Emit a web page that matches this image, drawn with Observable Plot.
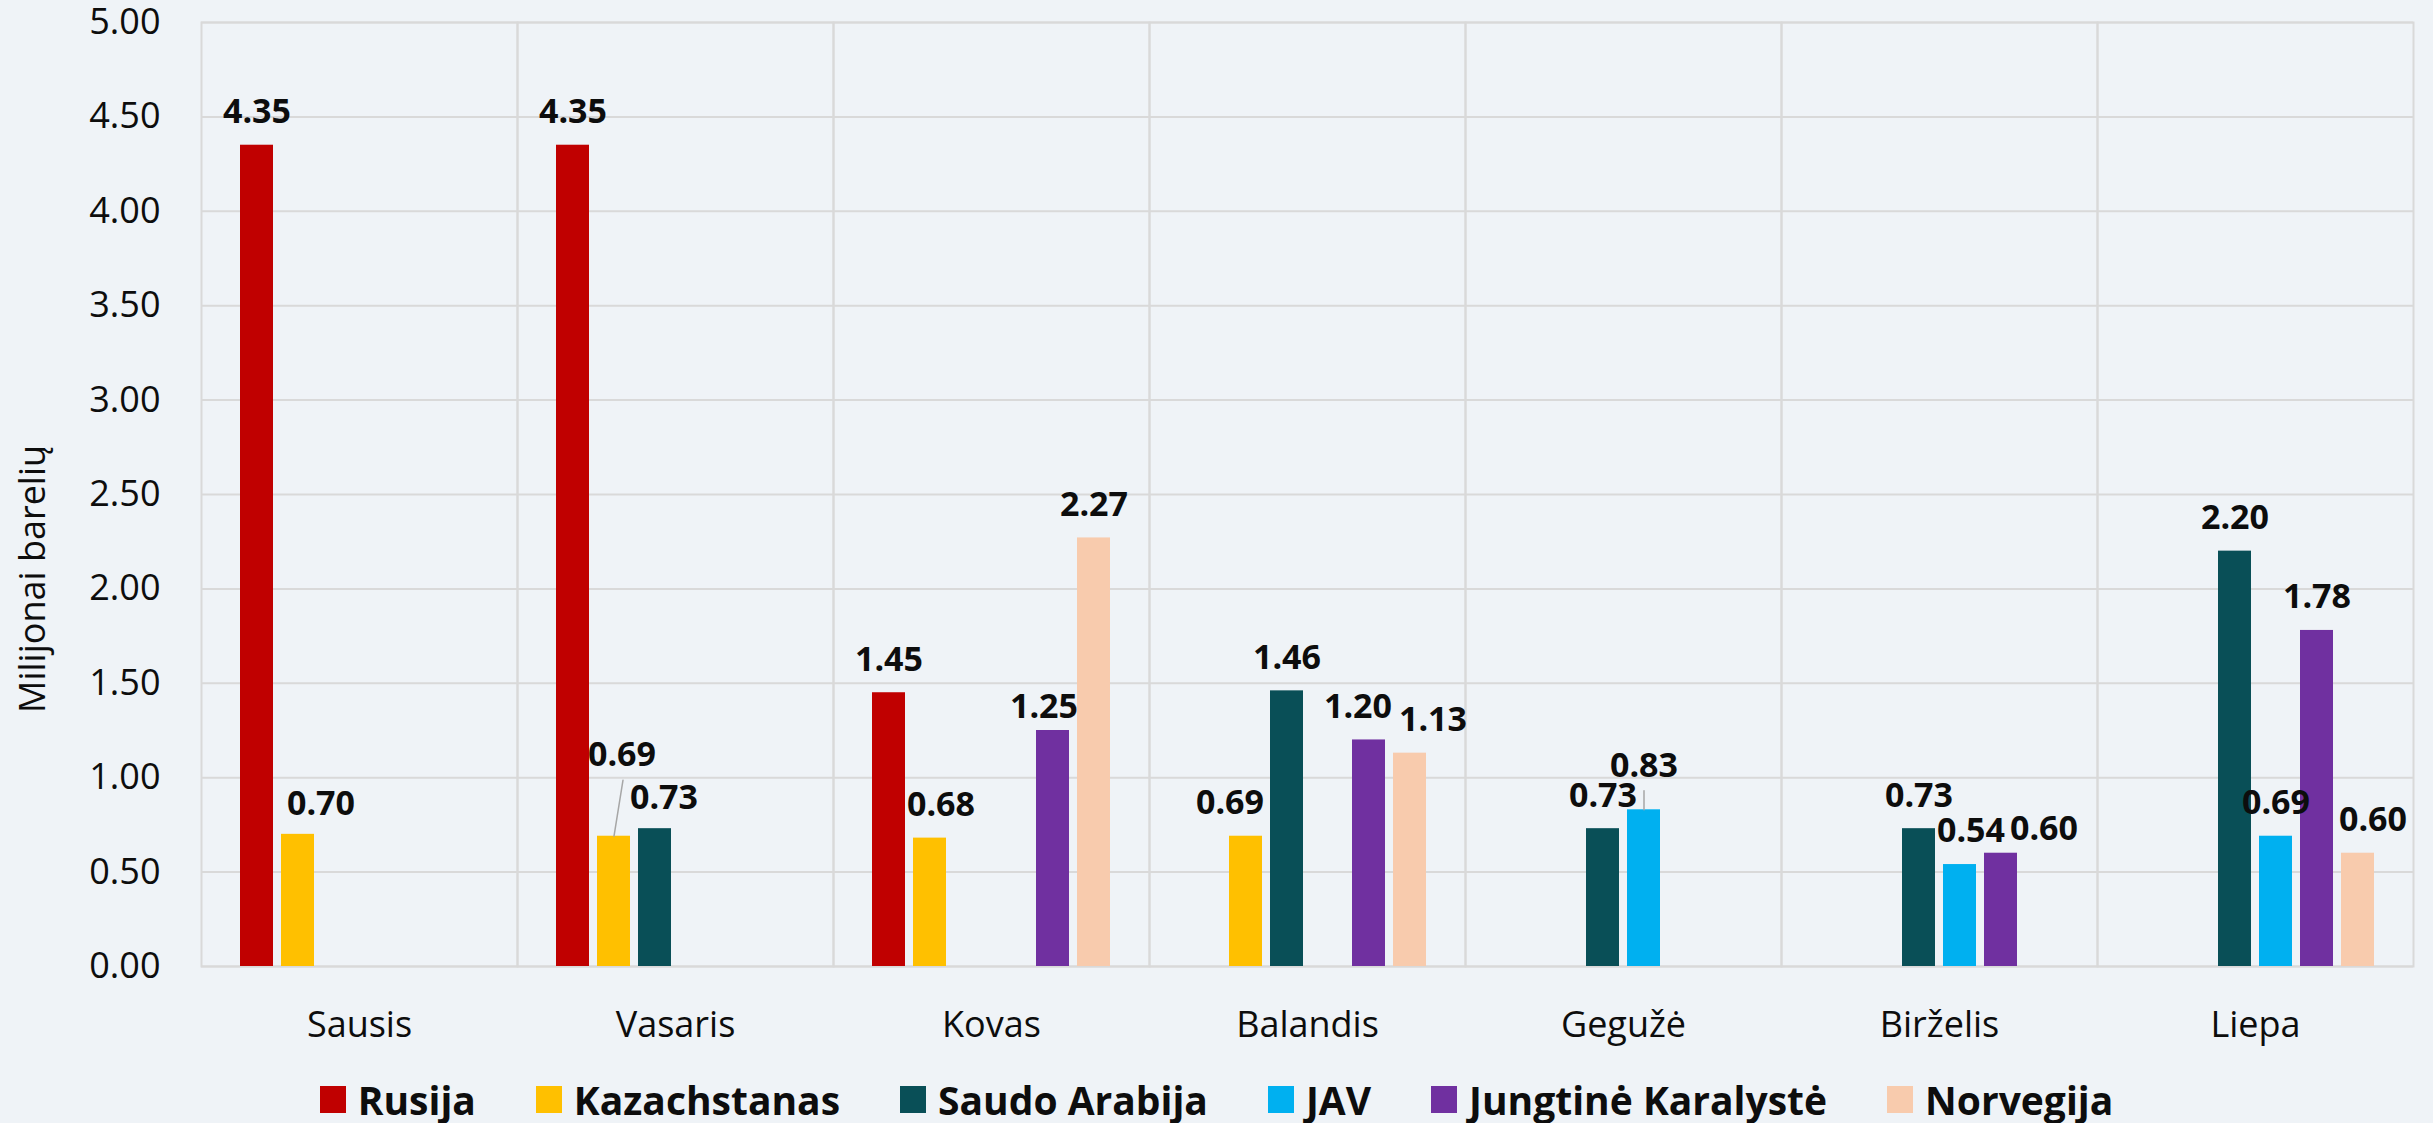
<!DOCTYPE html>
<html><head><meta charset="utf-8">
<script src="https://cdn.jsdelivr.net/npm/d3@7"></script>
<script src="https://cdn.jsdelivr.net/npm/@observablehq/plot@0.6"></script>
<style>
html,body{margin:0;padding:0;background:#eff3f7;}
body{width:2433px;height:1123px;position:relative;overflow:hidden;font-family:"Open Sans",sans-serif;color:#0d0d0d;}
#chart{position:absolute;left:0;top:0;}
#ylabel{position:absolute;left:14px;top:713px;transform:rotate(-90deg);transform-origin:0 0;font-size:36px;line-height:36px;white-space:nowrap;}
#legend{position:absolute;left:0;top:1078px;width:2433px;height:42px;display:flex;justify-content:center;align-items:center;font-size:39px;font-weight:700;}
.item{display:flex;align-items:center;margin:0 30px;}
.sw{width:26px;height:27px;margin-right:12px;}
</style></head><body>
<div id="chart"></div>
<div id="ylabel">Milijonai barelių</div>
<div id="legend"></div>
<script>
// ---- data ----
const months = ["Sausis", "Vasaris", "Kovas", "Balandis", "Gegužė", "Birželis", "Liepa"];
const series = ["Rusija", "Kazachstanas", "Saudo Arabija", "JAV", "Jungtinė Karalystė", "Norvegija"];
const rusija            = [4.35, 4.35, 1.45, null, null, null, null];
const kazachstanas      = [0.70, 0.69, 0.68, 0.69, null, null, null];
const saudoArabija      = [null, 0.73, null, 1.46, 0.73, 0.73, 2.20];
const jav               = [null, null, null, null, 0.83, 0.54, 0.69];
const jungtineKaralyste = [null, null, 1.25, 1.20, null, 0.60, 1.78];
const norvegija         = [null, null, 2.27, 1.13, null, null, 0.60];
const yTicks = [0, 0.5, 1, 1.5, 2, 2.5, 3, 3.5, 4, 4.5, 5];

// ---- styles ----
const colors = ["#C00000", "#FFC000", "#094F57", "#00B0F0", "#7030A0", "#F8CBAD"];
// label nudges in px [dx, dy] relative to default position above bar
const labelNudge = {
  "Sausis|Kazachstanas": [23, 3],
  "Vasaris|Kazachstanas": [8, -48],
  "Vasaris|Saudo Arabija": [9, 2],
  "Kovas|Kazachstanas": [11, 0],
  "Kovas|Jungtinė Karalystė": [-9, 10],
  "Balandis|Kazachstanas": [-16, 0],
  "Balandis|Jungtinė Karalystė": [-11, 0],
  "Balandis|Norvegija": [23, 0],
  "Gegužė|JAV": [0, -11],
  "Birželis|JAV": [11, 0],
  "Birželis|Jungtinė Karalystė": [43, 9],
  "Liepa|Norvegija": [15, 0]
};
// leader lines: end offset in px from bar top centre
const leaders = {
  "Vasaris|Kazachstanas": [9, -56],
  "Gegužė|JAV": [0, -19]
};
const defaultLift = 33;

const valuesBySeries = [rusija, kazachstanas, saudoArabija, jav, jungtineKaralyste, norvegija];
const data = [];
series.forEach((s, si) => months.forEach((m, mi) => {
  const v = valuesBySeries[si][mi];
  if (v != null) data.push({month: m, series: s, value: v});
}));
const key = d => d.month + "|" + d.series;

const lineShape = {draw(context, l) { context.moveTo(0, 0); context.lineTo(0, -l); }};

const leaderMarks = data.filter(d => leaders[key(d)]).map(d => {
  const [lx, ly] = leaders[key(d)];
  return Plot.vector([d], {
    fx: "month", x: "series", y: "value",
    length: Math.hypot(lx, ly), rotate: Math.atan2(lx, -ly) * 180 / Math.PI,
    anchor: "start", shape: lineShape, stroke: "#a6a6a6", strokeWidth: 1.5
  });
});

const labelMarks = data.map(d => {
  const [dx, dy] = labelNudge[key(d)] || [0, 0];
  return Plot.text([d], {
    fx: "month", x: "series", y: "value",
    text: d => d.value.toFixed(2),
    dx, dy: dy - defaultLift,
    fontWeight: 700, fontSize: 34, fill: "#0d0d0d"
  });
});

const chart = Plot.plot({
  width: 2433, height: 1060,
  marginLeft: 201, marginRight: 20, marginTop: 22, marginBottom: 94,
  style: {background: "#eff3f7", fontFamily: "Open Sans", fontSize: "36px", color: "#0d0d0d", overflow: "visible"},
  fx: {domain: months, padding: 0, label: null},
  x: {domain: series, paddingInner: 0.19, paddingOuter: 0.857, axis: null},
  y: {domain: [0, 5], label: null},
  color: {domain: series, range: colors},
  marks: [
    Plot.gridY(yTicks, {stroke: "#d9d9d9", strokeOpacity: 1, strokeWidth: 2}),
    Plot.frame({stroke: "#d9d9d9", strokeWidth: 2}),
    Plot.barY(data, {fx: "month", x: "series", y: "value", fill: "series"}),
    Plot.axisY(yTicks, {tickFormat: d3.format(".2f"), tickSize: 0, tickPadding: 41, label: null, fontSize: 36}),
    Plot.axisFx({anchor: "bottom", tickSize: 0, tickPadding: 45, label: null, fontSize: 36}),
    ...leaderMarks,
    ...labelMarks
  ]
});
document.getElementById("chart").appendChild(chart);

const legend = document.getElementById("legend");
series.forEach((s, i) => {
  const item = document.createElement("div");
  item.className = "item";
  const sw = document.createElement("div");
  sw.className = "sw";
  sw.style.background = colors[i];
  const t = document.createElement("span");
  t.textContent = s;
  item.appendChild(sw);
  item.appendChild(t);
  legend.appendChild(item);
});
</script>
</body></html>
